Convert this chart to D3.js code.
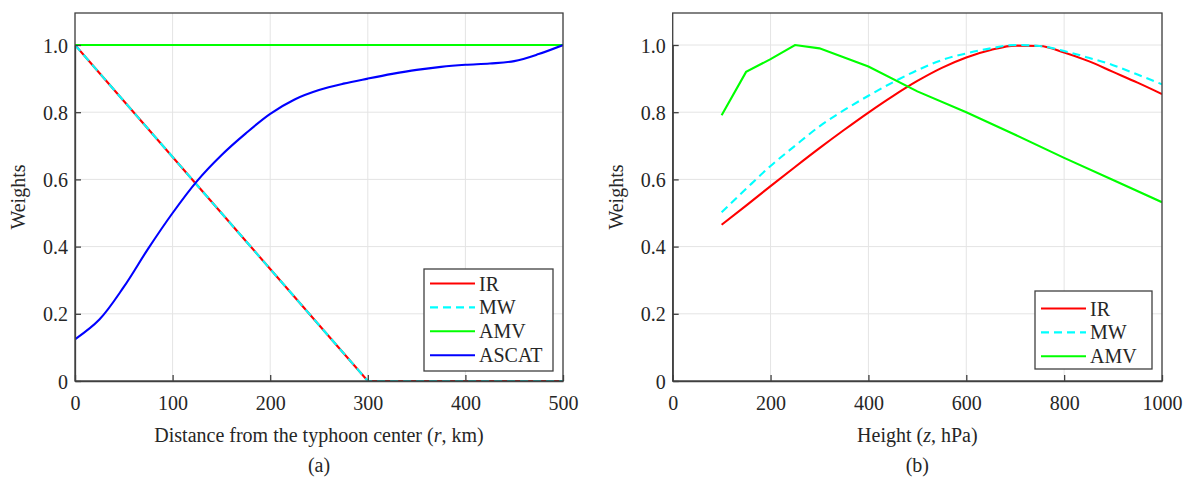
<!DOCTYPE html>
<html><head><meta charset="utf-8">
<script src="https://cdn.jsdelivr.net/npm/d3@7"></script>
<style>body{margin:0;background:#fff}svg{display:block}</style>
</head><body>
<svg id="c" width="1187" height="478"></svg>
<script>
// ---- Panel (a) data ----
const distR = [0,25,50,75,100,125,150,175,200,225,250,275,300,325,350,375,400,425,450,475,500];
const irA = [1.0,0.9167,0.8333,0.75,0.6667,0.5833,0.5,0.4167,0.3333,0.25,0.1667,0.0833,0,0,0,0,0,0,0,0,0];
const mwA = [1.0,0.9167,0.8333,0.75,0.6667,0.5833,0.5,0.4167,0.3333,0.25,0.1667,0.0833,0,0,0,0,0,0,0,0,0];
const amvA = [1,1,1,1,1,1,1,1,1,1,1,1,1,1,1,1,1,1,1,1,1];
const ascatA = [0.124,0.183,0.28,0.394,0.50,0.595,0.672,0.737,0.795,0.838,0.866,0.885,0.900,0.914,0.926,0.935,0.941,0.945,0.952,0.973,1.0];
// ---- Panel (b) data ----
const heightZ = [100,150,200,250,300,350,400,450,500,550,600,650,700,750,800,850,900,950,1000];
const irB = [0.465,0.522,0.58,0.637,0.693,0.747,0.799,0.848,0.893,0.932,0.963,0.985,0.998,0.997,0.978,0.952,0.92,0.888,0.854];
const mwB = [0.502,0.572,0.64,0.70,0.758,0.806,0.849,0.889,0.925,0.955,0.975,0.99,1.0,0.997,0.982,0.962,0.94,0.912,0.883];
const amvZ = [100,150,200,250,300,400,500,600,700,800,900,1000];
const amvB = [0.791,0.92,0.958,1.0,0.99,0.936,0.862,0.80,0.733,0.664,0.598,0.532];
const xTicksA = [0,100,200,300,400,500];
const xTicksB = [0,200,400,600,800,1000];
const yTicks = [0,0.2,0.4,0.6,0.8,1.0];
const yTickLabels = ["0","0.2","0.4","0.6","0.8","1.0"];

const svg = d3.select("#c");
const FONT = "Liberation Serif, Times New Roman, serif";
const AX = "#404040";

function txt(sel){ return sel.attr("font-family",FONT).style("font-family",FONT).attr("font-size",20).style("font-size","20px").attr("fill","#262626"); }

function panel(o){
  const g = svg.append("g");
  const x = d3.scaleLinear().domain(o.xDomain).range([o.left, o.right]);
  const y = d3.scaleLinear().domain([0,1]).range([381, 45]);
  const top = 13;
  g.selectAll(".gx").data(o.xTicks).enter().append("line")
    .attr("x1",d=>x(d)).attr("x2",d=>x(d)).attr("y1",top).attr("y2",381)
    .attr("stroke","#e4e4e4").attr("stroke-width",1);
  g.selectAll(".gy").data(yTicks).enter().append("line")
    .attr("x1",o.left).attr("x2",o.right).attr("y1",d=>y(d)).attr("y2",d=>y(d))
    .attr("stroke","#e4e4e4").attr("stroke-width",1);
  const clipId = "clip"+o.id;
  svg.append("clipPath").attr("id",clipId).append("rect")
    .attr("x",o.left).attr("y",top).attr("width",o.right-o.left).attr("height",381-top+1);
  const sg = g.append("g").attr("clip-path",`url(#${clipId})`);
  o.series.forEach(s=>{
    const line = d3.line().x((d,i)=>x(s.x[i])).y(d=>y(d)).curve(s.curve||d3.curveLinear);
    sg.append("path").datum(s.y).attr("d",line).attr("fill","none")
      .attr("stroke",s.color).attr("stroke-width",2.1)
      .attr("stroke-dasharray",s.dash||null);
  });
  g.append("rect").attr("x",o.left).attr("y",top).attr("width",o.right-o.left).attr("height",381-top)
    .attr("fill","none").attr("stroke",AX).attr("stroke-width",1.3);
  const xa = d3.axisBottom(x).tickValues(o.xTicks).tickFormat(d3.format("d")).tickSizeInner(-6).tickSizeOuter(0).tickPadding(15);
  const xg = g.append("g").attr("transform","translate(0,381)").call(xa);
  const ya = d3.axisLeft(y).tickValues(yTicks).tickFormat((d,i)=>yTickLabels[i]).tickSizeInner(-6).tickSizeOuter(0).tickPadding(7);
  const yg = g.append("g").attr("transform",`translate(${o.left},0)`).call(ya);
  [xg,yg].forEach(a=>{
    a.attr("font-family",FONT).attr("font-size",20);
    a.select(".domain").attr("stroke",AX).attr("stroke-width",1.3);
    a.selectAll(".tick line").attr("stroke",AX).attr("stroke-width",1.3);
    txt(a.selectAll(".tick text"));
  });
  yg.selectAll(".tick text").attr("dy","0.35em");
  const cx = (o.left+o.right)/2;
  const t = txt(g.append("text").attr("x",cx).attr("y",442).attr("text-anchor","middle"));
  o.xTitle.forEach(p=>t.append("tspan").text(p.t).style("font-style",p.i?"italic":null));
  txt(g.append("text").attr("x",cx).attr("y",472).attr("text-anchor","middle")).text(o.tag);
  txt(g.append("text").attr("transform",`translate(${o.left-50},197) rotate(-90)`).attr("text-anchor","middle")).text("Weights");
  const L = o.legend;
  g.append("rect").attr("x",L.x).attr("y",L.y).attr("width",L.w).attr("height",L.h)
    .attr("fill","#fff").attr("stroke",AX).attr("stroke-width",1.3);
  o.series.forEach((s,i)=>{
    const yy = L.y + L.first + i*23.9;
    g.append("line").attr("x1",L.x+6).attr("x2",L.x+51).attr("y1",yy).attr("y2",yy)
      .attr("stroke",s.color).attr("stroke-width",2.1).attr("stroke-dasharray",s.dash||null);
    txt(g.append("text").attr("x",L.x+55).attr("y",yy).attr("dy","0.35em")).text(s.name);
  });
}

panel({
  id:"a", xDomain:[0,500], left:75, right:563, xTicks:xTicksA, tag:"(a)",
  xTitle:[{t:"Distance from the typhoon center ("},{t:"r",i:true},{t:", km)"}],
  legend:{x:424,y:269,w:129,h:102,first:14.5},
  series:[
    {name:"IR", x:distR, y:irA, color:"#ff0000"},
    {name:"MW", x:distR, y:mwA, color:"#00ffff", dash:"8,5"},
    {name:"AMV", x:distR, y:amvA, color:"#00ff00"},
    {name:"ASCAT", x:distR, y:ascatA, color:"#0000ff", curve:d3.curveCatmullRom.alpha(0.5)}
  ]
});
panel({
  id:"b", xDomain:[0,1000], left:672.7, right:1162, xTicks:xTicksB, tag:"(b)",
  xTitle:[{t:"Height ("},{t:"z",i:true},{t:", hPa)"}],
  legend:{x:1035,y:291,w:117,h:78,first:17.5},
  series:[
    {name:"IR", x:heightZ, y:irB, color:"#ff0000", curve:d3.curveMonotoneX},
    {name:"MW", x:heightZ, y:mwB, color:"#00ffff", dash:"8,5", curve:d3.curveMonotoneX},
    {name:"AMV", x:amvZ, y:amvB, color:"#00ff00"}
  ]
});
</script>
</body></html>
